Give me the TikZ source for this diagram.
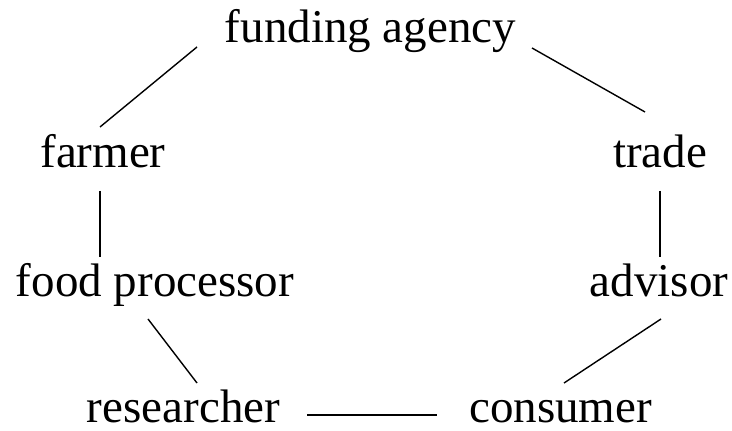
\documentclass[tikz,border=0pt]{standalone}
\usepackage{fontspec}
\setmainfont{Liberation Serif}
\usetikzlibrary{calc}
\begin{document}
\begin{tikzpicture}[x=0.5pt, y=-0.5pt,
    every node/.style = {anchor=base, inner sep=0pt,
      font=\fontsize{23.5}{28}\selectfont},
    link/.style = {draw, line width=0.7pt}]
    \useasboundingbox (0,0) rectangle (732,431);
    \node (fund) at (370.5,43) {funding agency};
    \node (farmer) at (103,168) {farmer};
    \node (trade) at (660,168) {trade};
    \node (food) at (155,297) {food processor};
    \node (advisor) at (659,297) {advisor};
    \node (research) at (183.5,423) {researcher};
    \node (consumer) at (560.5,423) {consumer};
    % connectors, offsets from the base lines
    \path[link] ($(fund.base)+(-173.5,4)$) -- ($(farmer.base)+(-3,-41)$);
    \path[link] ($(fund.base)+(161.5,5)$) -- ($(trade.base)+(-15,-56)$);
    \path[link] ($(farmer.base)+(-3,23)$) -- ($(food.base)+(-55,-40)$);
    \path[link] ($(trade.base)+(0,23)$) -- ($(advisor.base)+(1,-40)$);
    \path[link] ($(food.base)+(-7,22)$) -- ($(research.base)+(13.5,-40)$);
    \path[link] ($(advisor.base)+(2,22)$) -- ($(consumer.base)+(3.5,-40)$);
    \path[link] ($(research.base)+(123.5,-8)$) -- ($(consumer.base)+(-123.5,-8)$);
\end{tikzpicture}
\end{document}
